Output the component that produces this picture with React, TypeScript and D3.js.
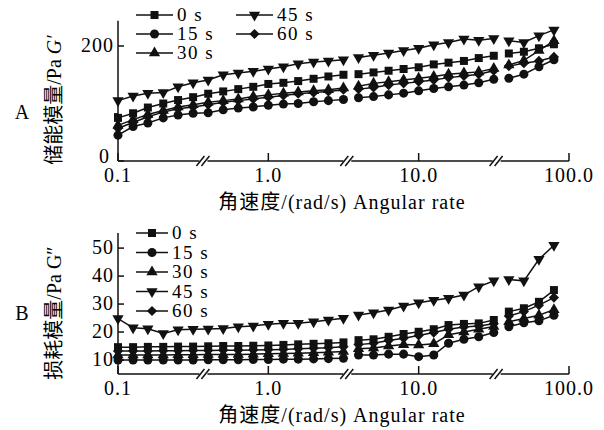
import React from 'react';
import { scaleLog, scaleLinear, line, symbol, symbolSquare, symbolCircle, symbolTriangle } from 'd3';

// angular frequency (rad/s), 10 points per decade
const freq = [0.1, 0.126, 0.158, 0.2, 0.251, 0.316, 0.398, 0.501, 0.631, 0.794, 1, 1.26, 1.58, 2, 2.51, 3.16, 3.98, 5.01, 6.31, 7.94, 10, 12.6, 15.8, 20, 25.1, 31.6, 39.8, 50.1, 63.1, 79.4];

const seriesNames = ['0 s', '15 s', '30 s', '45 s', '60 s'];

// storage modulus G' (Pa)
const gStore0 = [75, 83, 93, 100, 106, 111, 117, 121, 125, 129, 134, 136, 139, 143, 147, 150, 151, 154, 157, 160, 163, 168, 171, 174, 179, 183, 187, 190, 196, 203];
const gStore15 = [45, 60, 66, 75, 80, 83, 84, 89, 92, 94, 97, 99, 100, 103, 105, 107, 110, 112, 115, 118, 122, 126, 129, 132, 136, 142, 144, 151, 164, 176];
const gStore30 = [62, 72, 81, 88, 94, 98, 102, 105, 108, 112, 115, 118, 120, 122, 124, 127, 130, 135, 138, 141, 144, 147, 151, 153, 155, 161, 167, 175, 192, 209];
const gStore45 = [105, 113, 118, 119, 129, 136, 141, 150, 153, 156, 160, 164, 169, 172, 174, 176, 180, 184, 188, 192, 196, 202, 206, 212, 210, 213, 209, 206, 218, 228];
const gStore60 = [57, 67, 77, 85, 91, 94, 98, 102, 105, 108, 111, 114, 117, 119, 121, 124, 125, 128, 132, 135, 138, 141, 145, 148, 151, 157, 165, 170, 174, 181];

// loss modulus G'' (Pa)
const gLoss0 = [14.6, 14.6, 14.7, 14.7, 14.8, 14.8, 14.9, 15, 15, 15.1, 15.2, 15.4, 15.6, 15.8, 16, 16.3, 17.1, 17.4, 18.3, 19.3, 20.1, 21, 22.5, 22.9, 23.1, 24.3, 27.3, 28.5, 30.8, 35];
const gLoss15 = [10, 10, 10, 10, 10, 10, 10.1, 10.1, 10.1, 10.2, 10.2, 10.3, 10.3, 10.4, 10.5, 10.6, 11.8, 11.8, 12.1, 12.1, 11.2, 11.8, 16, 17.4, 18.3, 19.8, 21.9, 23.3, 24, 26];
const gLoss30 = [11.8, 11.8, 11.8, 11.8, 11.9, 11.9, 12, 12, 12, 12.1, 12.2, 12.3, 12.4, 12.6, 12.8, 13, 14, 14.3, 15, 15.5, 15.4, 15.8, 19, 20, 21, 22, 23.7, 24.8, 26, 28];
const gLoss45 = [24.8, 21.5, 21.2, 19.5, 20.8, 21, 21.1, 21.3, 21.9, 22.2, 22.8, 23.1, 23.1, 23.7, 24.3, 24.9, 26.1, 26.9, 27.9, 29.3, 30.5, 31.4, 32.1, 33.2, 36.2, 38.3, 38.8, 38.3, 46, 51];
const gLoss60 = [13.2, 13.2, 13.2, 13.3, 13.3, 13.4, 13.4, 13.5, 13.5, 13.6, 13.7, 13.8, 14, 14.2, 14.4, 14.7, 15.5, 16, 17, 17.8, 18.8, 19.8, 21, 21.8, 22.2, 23, 25.7, 27.3, 29.6, 32.3];

const xTicks = [0.1, 1, 10, 100];
const xTickLabels = ['0.1', '1.0', '10.0', '100.0'];
const axisBreaks = [0.37, 3.35, 33];
const lineBreaks = [3.35, 33];
const yTicksA = [0, 200];
const yMinorA = [82];
const yTicksB = [10, 20, 30, 40, 50];

const FONT = '"Liberation Serif", "Times New Roman", "DejaVu Serif", "Noto Sans CJK SC", serif';
const txt = { fontFamily: FONT };
const x = scaleLog().domain([0.1, 100]).range([118, 569]);

type Mk = 'square' | 'circle' | 'tri' | 'triDown' | 'diamond';
const markers: Mk[] = ['square', 'circle', 'tri', 'triDown', 'diamond'];

function markerPath(m: Mk) {
  if (m === 'square') return symbol(symbolSquare, 64)() as string;
  if (m === 'circle') return symbol(symbolCircle, 64)() as string;
  if (m === 'diamond') return symbol(symbolSquare, 52)() as string;
  return symbol(symbolTriangle, 55)() as string;
}

function Marker({ m, cx, cy }: { m: Mk; cx: number; cy: number }) {
  const rot = m === 'triDown' ? 180 : m === 'diamond' ? 45 : 0;
  return <path d={markerPath(m)} transform={`translate(${cx},${cy}) rotate(${rot})`} fill="#111" />;
}

function Panel({ series, y, yTicks, minor, top, bottom, label, labelY, yLabel, legend }: any) {
  // split each series where the axis is broken (no line across the gap)
  const segs = (vals: number[]) => {
    const out: [number, number][][] = [[]];
    freq.forEach((f, i) => {
      const seg = lineBreaks.filter((b) => f > b).length;
      while (out.length <= seg) out.push([]);
      out[seg].push([x(f), y(vals[i])]);
    });
    return out;
  };
  const ln = line();
  return (
    <g>
      {series.map((vals: number[], s: number) => (
        <g key={s}>
          {segs(vals).map((pts, j) => (
            <path key={j} d={ln(pts) as string} fill="none" stroke="#111" strokeWidth={1.5} />
          ))}
          {freq.map((f, i) => (
            <Marker key={i} m={markers[s]} cx={x(f)} cy={y(vals[i])} />
          ))}
        </g>
      ))}
      {/* axes */}
      <line x1={118} x2={118} y1={top} y2={bottom} stroke="#111" strokeWidth={1.5} />
      <line x1={118} x2={569} y1={bottom} y2={bottom} stroke="#111" strokeWidth={1.5} />
      {xTicks.map((t, i) => (
        <g key={t}>
          <line x1={x(t)} x2={x(t)} y1={bottom} y2={bottom - 8} stroke="#111" strokeWidth={1.5} />
          <text x={x(t)} y={bottom + 21} textAnchor="middle" fontSize={20} letterSpacing={1} style={txt}>
            {xTickLabels[i]}
          </text>
        </g>
      ))}
      {axisBreaks.map((b) => (
        <g key={b} transform={`translate(${x(b)},${bottom})`}>
          <rect x={-4} y={-3} width={8} height={6} fill="#fff" />
          <line x1={-7} y1={5} x2={1} y2={-5} stroke="#111" strokeWidth={1.5} />
          <line x1={-2} y1={5} x2={6} y2={-5} stroke="#111" strokeWidth={1.5} />
        </g>
      ))}
      {yTicks.map((t: number) => (
        <g key={t}>
          <line x1={118} x2={124} y1={y(t)} y2={y(t)} stroke="#111" strokeWidth={1.5} />
          <text
            x={y(t) === bottom ? 110 : 114}
            y={y(t) + (y(t) === bottom ? 2 : 6)}
            textAnchor="end"
            fontSize={20}
            letterSpacing={1}
            style={txt}
          >
            {t}
          </text>
        </g>
      ))}
      {minor.map((t: number) => (
        <line key={t} x1={114} x2={118} y1={y(t)} y2={y(t)} stroke="#111" strokeWidth={1.5} />
      ))}
      <text x={22} y={labelY} textAnchor="middle" fontSize={20} style={txt}>
        {label}
      </text>
      <text transform={`translate(61,${yLabel.cy}) rotate(-90)`} textAnchor="middle" fontSize={20} style={txt}>
        {yLabel.cn}
        <tspan fontStyle={yLabel.italic ? 'italic' : 'normal'}>{yLabel.g}</tspan>
      </text>
      <text x={342} y={bottom + 48} textAnchor="middle" fontSize={20} letterSpacing={1} style={txt}>
        角速度/(rad/s) Angular rate
      </text>
      {legend.map((it: any) => (
        <g key={it.s}>
          <line x1={it.x} x2={it.x + it.w} y1={it.y} y2={it.y} stroke="#111" strokeWidth={1.5} />
          <Marker m={markers[it.s]} cx={it.x + it.w / 2} cy={it.y} />
          <text x={it.x + it.w + 4} y={it.y + 6} fontSize={19} letterSpacing={1.5} style={txt}>
            {seriesNames[it.s]}
          </text>
        </g>
      ))}
    </g>
  );
}

export default function App() {
  const yA = scaleLinear().domain([0, 244]).range([161, 20.7]);
  const yB = scaleLinear().domain([5, 55.4]).range([374, 233]);
  const legendA = [
    { s: 0, x: 136, w: 37, y: 15 },
    { s: 1, x: 136, w: 37, y: 34 },
    { s: 2, x: 136, w: 37, y: 53 },
    { s: 3, x: 236, w: 37, y: 15 },
    { s: 4, x: 236, w: 37, y: 34 },
  ];
  const legendB = [0, 1, 2, 3, 4].map((s) => ({ s, x: 136, w: 32, y: 233 + s * 19.5 }));
  return (
    <svg width={604} height={430} style={{ position: 'absolute', left: 0, top: 0, background: '#fff' }}>
      <Panel
        series={[gStore0, gStore15, gStore30, gStore45, gStore60]}
        y={yA}
        yTicks={yTicksA}
        minor={yMinorA}
        top={20.7}
        bottom={161}
        label="A"
        labelY={119}
        yLabel={{ cn: '储能模量/Pa ', g: 'G′', italic: true, cy: 100 }}
        legend={legendA}
      />
      <Panel
        series={[gLoss0, gLoss15, gLoss30, gLoss45, gLoss60]}
        y={yB}
        yTicks={yTicksB}
        minor={[]}
        top={233}
        bottom={374}
        label="B"
        labelY={320}
        yLabel={{ cn: '损耗模量/Pa ', g: 'G″', italic: false, cy: 313 }}
        legend={legendB}
      />
    </svg>
  );
}
